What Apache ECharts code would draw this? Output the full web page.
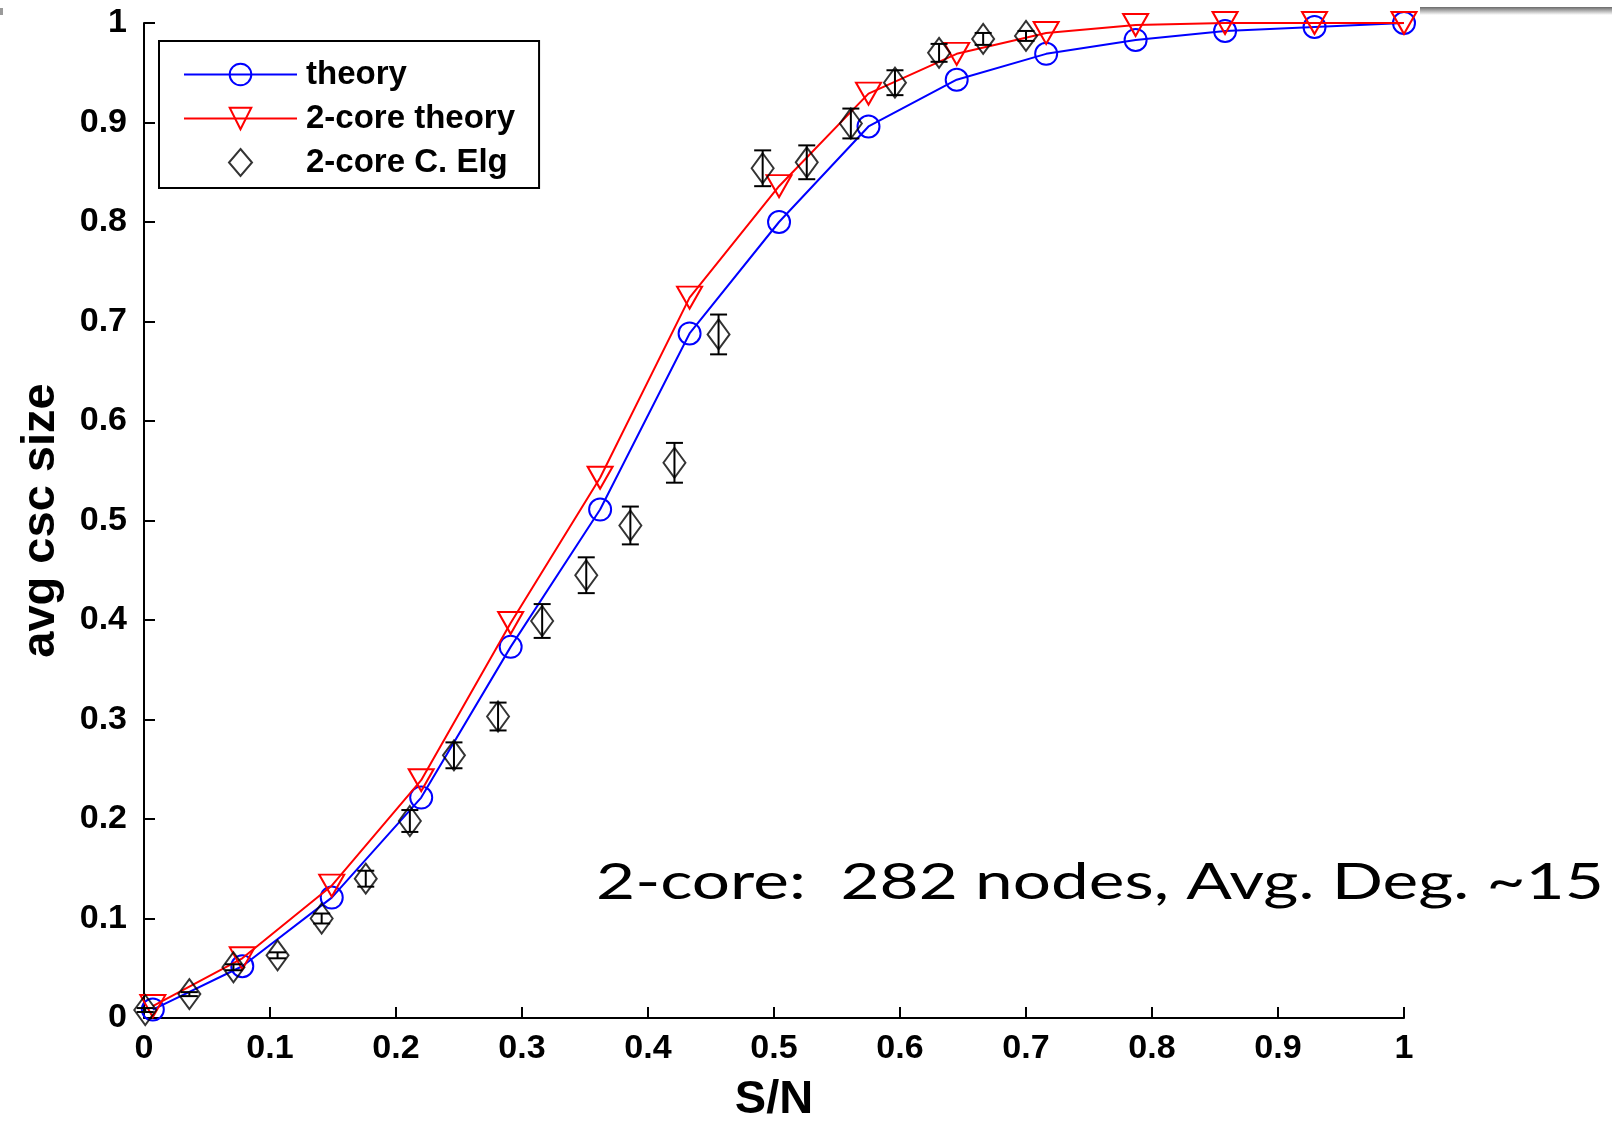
<!DOCTYPE html>
<html>
<head>
<meta charset="utf-8">
<title>avg csc size vs S/N</title>
<script src="https://cdn.jsdelivr.net/npm/echarts@6/dist/echarts.min.js"></script>
<style>
html,body{margin:0;padding:0;background:#fff;}
#main{width:1612px;height:1121px;}
</style>
</head>
<body>
<div id="main"></div>
<script>
// S/N positions of the theory curves
var theoryX = [0.007, 0.078, 0.149, 0.220, 0.291, 0.362, 0.433, 0.504, 0.575, 0.645, 0.716, 0.787, 0.858, 0.929, 1.0];
// theory (blue circles)
var theoryY = [0.0085, 0.052, 0.121, 0.2215, 0.373, 0.511, 0.688, 0.800, 0.896, 0.943, 0.969, 0.983, 0.992, 0.996, 1.0];
// 2-core theory (red triangles)
var coreTheoryY = [0.012, 0.060, 0.133, 0.239, 0.397, 0.543, 0.724, 0.836, 0.929, 0.969, 0.990, 0.998, 1.0, 1.0, 1.0];
// 2-core C. Elg measurements (diamonds) with error bar half widths
var elgX = [0.001, 0.036, 0.071, 0.106, 0.141, 0.176, 0.211, 0.246, 0.281, 0.316, 0.351,
            0.386, 0.421, 0.456, 0.491, 0.526, 0.561, 0.596, 0.631, 0.666, 0.700];
var elgY = [0.008, 0.024, 0.051, 0.063, 0.100, 0.140, 0.198, 0.264, 0.303, 0.399, 0.445,
            0.495, 0.558, 0.687, 0.854, 0.860, 0.899, 0.940, 0.970, 0.984, 0.987];
var elgErr = [0.002, 0.002, 0.003, 0.003, 0.005, 0.008, 0.011, 0.013, 0.014, 0.017, 0.018,
              0.019, 0.020, 0.020, 0.018, 0.017, 0.015, 0.0125, 0.009, 0.006, 0.005];
var xTicks = [0, 0.1, 0.2, 0.3, 0.4, 0.5, 0.6, 0.7, 0.8, 0.9, 1];
var note = '2-core:  282 nodes, Avg. Deg. ~15';

function pairs(xs, ys){
    var out = [];
    for (var i = 0; i < xs.length; i++) out.push([xs[i], ys[i]]);
    return out;
}
var errData = [];
for (var i = 0; i < elgX.length; i++) errData.push([elgX[i], elgY[i], elgErr[i]]);

//误差线
function renderErr(params, api){
    var x = api.value(0), y = api.value(1), e = api.value(2);
    var top = api.coord([x, y + e]);
    var bot = api.coord([x, y - e]);
    var w = 8.5;
    var st = {stroke: '#000', lineWidth: 2};
    return {type: 'group', children: [
        {type: 'line', shape: {x1: top[0], y1: top[1], x2: bot[0], y2: bot[1]}, style: st},
        {type: 'line', shape: {x1: top[0] - w, y1: top[1], x2: top[0] + w, y2: top[1]}, style: st},
        {type: 'line', shape: {x1: bot[0] - w, y1: bot[1], x2: bot[0] + w, y2: bot[1]}, style: st}
    ]};
}

var tickFont = {fontFamily: 'Liberation Sans', fontWeight: 'bold', fontSize: 34, color: '#000'};
var nameFont = {fontFamily: 'Liberation Sans', fontWeight: 'bold', fontSize: 47, color: '#000'};

var option = {
    backgroundColor: '#fff',
    animation: false,
    grid: {left: 144, right: 208, top: 23, bottom: 103, outerBoundsMode: 'none', containLabel: false},
    xAxis: {
        type: 'value', min: 0, max: 1, interval: 0.1,
        name: 'S/N', nameLocation: 'middle', nameGap: 59, nameTextStyle: nameFont,
        axisLine: {lineStyle: {color: '#000', width: 2}},
        axisTick: {inside: true, length: 11, lineStyle: {color: '#000', width: 2}},
        axisLabel: {margin: 14, textStyle: tickFont,
            formatter: function(v){ return String(xTicks[Math.round(v * 10)]); }},
        splitLine: {show: false}
    },
    yAxis: {
        type: 'value', min: 0, max: 1, interval: 0.1,
        name: 'avg csc size', nameLocation: 'middle', nameGap: 79, nameTextStyle: nameFont,
        axisLine: {show: true, lineStyle: {color: '#000', width: 2}},
        axisTick: {show: true, inside: true, length: 11, lineStyle: {color: '#000', width: 2}},
        axisLabel: {margin: 17, textStyle: tickFont},
        splitLine: {show: false}
    },
    legend: {
        orient: 'vertical', left: 159, top: 41,
        padding: [17, 24, 9, 24], itemGap: 11,
        itemWidth: 113, itemHeight: 27,
        borderColor: '#000', borderWidth: 2, backgroundColor: '#fff',
        textStyle: {fontFamily: 'Liberation Sans', fontWeight: 'bold', fontSize: 33, color: '#000', padding: [0, 0, 0, 4]},
        data: ['theory', '2-core theory',
            {name: '2-core C. Elg', icon: 'path://M0,0M113,27M56.5,0L68,13.5L56.5,27L45,13.5Z'}]
    },
    graphic: [
        {type: 'text', x: 596, y: 883, z: 10, scaleX: 1.35,
            style: {text: note, font: '50px Lato', fill: '#000', verticalAlign: 'middle'}},
        {type: 'rect', shape: {x: 1420, y: 7, width: 192, height: 8},
            style: {fill: {type: 'linear', x: 0, y: 0, x2: 0, y2: 1,
                colorStops: [{offset: 0, color: '#6a6a6a'}, {offset: 1, color: '#ffffff'}]}}},
        {type: 'rect', shape: {x: 0, y: 8, width: 3, height: 7}, style: {fill: '#9a9a9a'}}
    ],
    series: [
        {
            name: 'theory', type: 'line', data: pairs(theoryX, theoryY),
            symbol: 'circle', symbolSize: 22, showAllSymbol: true,
            lineStyle: {color: '#0000ff', width: 2},
            itemStyle: {color: 'rgba(255,255,255,0)', borderColor: '#0000ff', borderWidth: 2},
            z: 2
        },
        {
            name: '2-core theory', type: 'line', data: pairs(theoryX, coreTheoryY),
            symbol: 'triangle', symbolRotate: 180, symbolSize: [25, 22], showAllSymbol: true,
            lineStyle: {color: '#ff0000', width: 2},
            itemStyle: {color: 'rgba(255,255,255,0)', borderColor: '#ff0000', borderWidth: 2},
            z: 3
        },
        {
            name: '2-core C. Elg', type: 'scatter', data: pairs(elgX, elgY),
            symbol: 'diamond', symbolSize: [22, 30],
            itemStyle: {color: 'rgba(255,255,255,0)', borderColor: '#000', borderWidth: 2},
            z: 4
        },
        {
            name: 'err', type: 'custom', data: errData, renderItem: renderErr, z: 5
        }
    ]
};

var myChart = echarts.init(document.getElementById('main'));
myChart.setOption(option);
</script>
</body>
</html>
